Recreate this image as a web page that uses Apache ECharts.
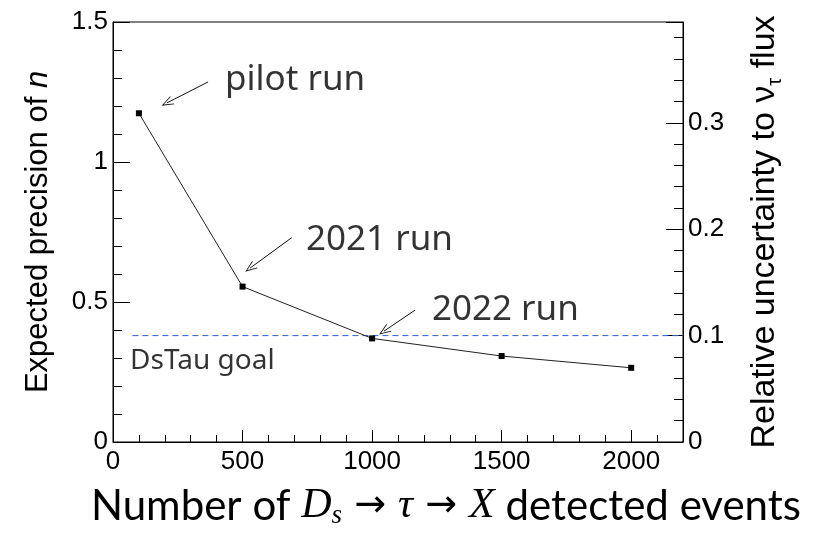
<!DOCTYPE html>
<html><head><meta charset="utf-8">
<script src="https://cdn.jsdelivr.net/npm/echarts@6/dist/echarts.min.js"></script>
<style>html,body{margin:0;padding:0;background:#fff}#c{width:821px;height:533px}</style>
</head><body><div id="c"></div>
<script>
// ---- data ----
const events = [100, 500, 1000, 1500, 2000];
const precision = [1.174, 0.555, 0.370, 0.307, 0.265];
const goalX = [75, 2200];
const goalPrecision = [0.38, 0.38];
const annotationTexts = ['pilot run', '2021 run', '2022 run', 'DsTau goal'];
const annotationX = [432, 745, 1231, 66];
const annotationY = [1.293, 0.721, 0.471, 0.289];
const arrowFrom = [[367, 1.286], [690, 0.730], [1166, 0.471]];
const arrowTo = [[208, 1.211], [529, 0.621], [1046, 0.396]];
const xTicks = {min: 0, max: 2200, interval: 500};
const yLeftTicks = {min: 0, max: 1.5, interval: 0.5};
const yRightTicks = {min: 0, max: 0.3947, interval: 0.1};

const chart = echarts.init(document.getElementById('c'), null, {renderer: 'canvas'});
const axisFont = {fontFamily: 'Liberation Sans', fontSize: 26, color: '#000'};
const blk = {color: '#000', width: 1};
const openArrow = 'path://M5,0 L10,12 L9,12 L5,2.4 L1,12 L0,12 Z';

const option = {
  backgroundColor: '#fff',
  animation: false,
  grid: {left: 113, right: 138, top: 22, bottom: 91, show: true, borderColor: '#000', borderWidth: 1, backgroundColor: 'transparent'},
  xAxis: {
    type: 'value', min: xTicks.min, max: xTicks.max, interval: xTicks.interval,
    axisLine: {show: true, lineStyle: blk},
    axisTick: {show: true, inside: true, length: 12, lineStyle: blk},
    minorTick: {show: true, splitNumber: 5, length: 7, lineStyle: blk},
    splitLine: {show: false},
    axisLabel: Object.assign({margin: 7, showMaxLabel: false, formatter: v => String(v)}, axisFont)
  },
  yAxis: [{
    type: 'value', position: 'left', min: yLeftTicks.min, max: yLeftTicks.max, interval: yLeftTicks.interval,
    axisLine: {show: true, lineStyle: blk},
    axisTick: {show: true, inside: true, length: 17, lineStyle: blk},
    minorTick: {show: true, splitNumber: 5, length: 9, lineStyle: blk},
    splitLine: {show: false},
    axisLabel: Object.assign({margin: 5, formatter: v => String(v)}, axisFont),
    name: '{a|Expected precision of }{b|n}',
    nameLocation: 'middle', nameGap: 59,
    nameTextStyle: {rich: {
      a: {fontFamily: 'Liberation Sans', fontSize: 31, color: '#000'},
      b: {fontFamily: 'Liberation Sans', fontSize: 31, fontStyle: 'italic', color: '#000'}
    }}
  }, {
    type: 'value', position: 'right', min: yRightTicks.min, max: yRightTicks.max, interval: yRightTicks.interval,
    alignTicks: false,
    axisLine: {show: true, lineStyle: blk},
    axisTick: {show: true, inside: true, length: 17, lineStyle: blk},
    minorTick: {show: true, splitNumber: 5, length: 9, lineStyle: blk},
    splitLine: {show: false},
    axisLabel: Object.assign({margin: 5, showMaxLabel: false, formatter: v => String(v)}, axisFont),
    name: '{a|Relative uncertainty to ν}{s|τ}{a| flux}',
    nameLocation: 'middle', nameGap: 62,
    nameTextStyle: {rich: {
      a: {fontFamily: 'Liberation Sans', fontSize: 34, lineHeight: 40, color: '#000'},
      s: {fontFamily: 'Liberation Sans', fontSize: 20, lineHeight: 20, verticalAlign: 'bottom', color: '#000'}
    }}
  }],
  graphic: [{
    type: 'text', x: 446, y: 506,
    style: {
      text: '{n|Number of }{m|D}{sub|s}{ar| → }{m|τ}{ar| → }{m|X}{n| detected events}',
      align: 'center', verticalAlign: 'middle',
      rich: {
        n: {fontFamily: 'Lato', fontSize: 42, lineHeight: 46, color: '#000'},
        m: {fontFamily: 'Liberation Serif', fontStyle: 'italic', fontSize: 42, lineHeight: 46, color: '#000'},
        sub: {fontFamily: 'Liberation Serif', fontStyle: 'italic', fontSize: 27, lineHeight: 26, verticalAlign: 'bottom', color: '#000'},
        ar: {fontFamily: 'DejaVu Sans', fontSize: 38, lineHeight: 46, color: '#000'}
      }
    }
  }],
  series: [{
    type: 'line', name: 'goal', yAxisIndex: 0,
    data: goalX.map((x, i) => [x, goalPrecision[i]]),
    symbol: 'none', silent: true,
    lineStyle: {color: '#2f62d0', type: [6, 4], width: 1},
    itemStyle: {color: '#2f62d0'},
    z: 2
  }, {
    type: 'line', name: 'precision', yAxisIndex: 0,
    data: events.map((x, i) => [x, precision[i]]),
    symbol: 'rect', symbolSize: 6,
    lineStyle: {color: '#222', width: 1},
    itemStyle: {color: '#000'},
    z: 3
  }, {
    type: 'scatter', name: 'annotations', yAxisIndex: 0,
    data: annotationTexts.map((t, i) => ({value: [annotationX[i], annotationY[i]], name: t,
      label: {fontSize: i === 3 ? 28 : 35, color: '#000'}})),
    symbolSize: 1, itemStyle: {color: 'rgba(0,0,0,0)'},
    label: {show: true, position: 'inside', align: 'left', verticalAlign: 'middle',
      formatter: p => p.name, fontFamily: 'Noto Sans', color: '#000', textBorderWidth: 0},
    silent: true,
    markLine: {
      silent: true, animation: false,
      symbol: ['none', openArrow], symbolSize: [9, 12],
      label: {show: false},
      lineStyle: {color: '#111', type: 'solid', width: 1},
      data: arrowFrom.map((f, i) => [{coord: f}, {coord: arrowTo[i]}])
    }
  }]
};
chart.setOption(option);
</script></body></html>
